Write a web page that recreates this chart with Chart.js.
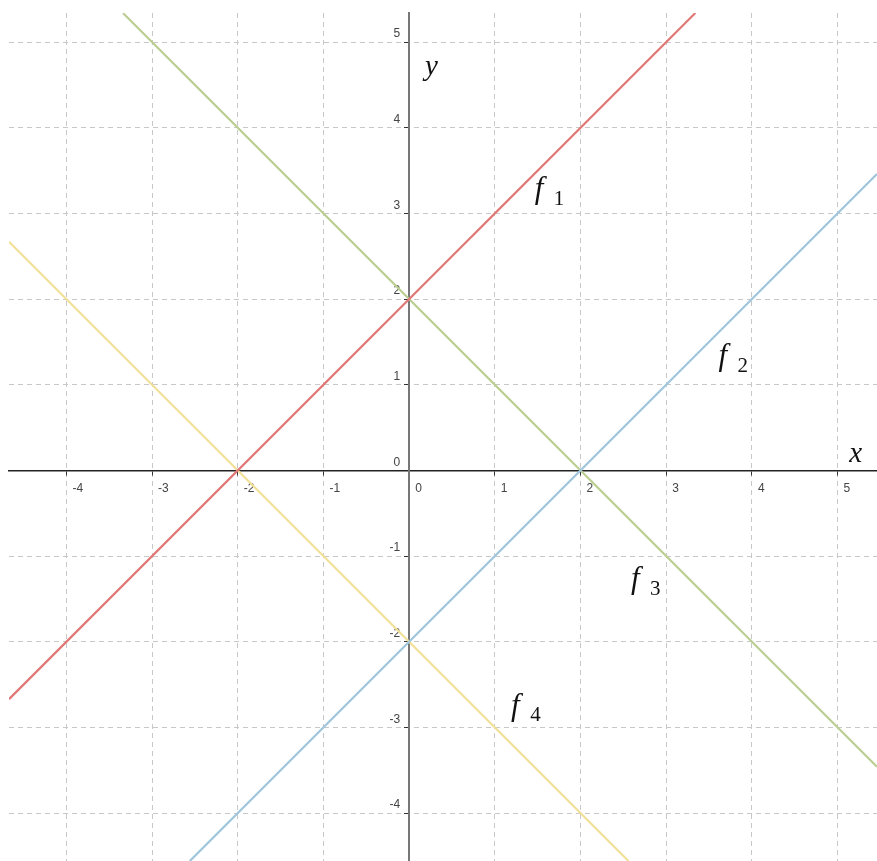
<!DOCTYPE html>
<html>
<head>
<meta charset="utf-8">
<script src="https://cdn.jsdelivr.net/npm/chart.js@4/dist/chart.umd.min.js"></script>
<style>
  html, body { margin: 0; padding: 0; background: #fff; }
  #wrap { width: 877px; height: 861px; }
</style>
</head>
<body>
<div id="wrap"><canvas id="myChart"></canvas></div>
<script>
(function () {
  'use strict'

  // tick labels
  var xTicks = [-4, -3, -2, -1, 0, 1, 2, 3, 4, 5]
  var yTicks = [-4, -3, -2, -1, 0, 1, 2, 3, 4, 5]

  // line end points
  var f1X = [-4.67, 3.34], f1Y = [-2.67, 5.34]
  var f2X = [-2.56, 5.46], f2Y = [-4.56, 3.46]
  var f3X = [-3.34, 5.46], f3Y = [5.34, -3.46]
  var f4X = [-4.67, 2.56], f4Y = [2.67, -4.56]

  // function names and where they sit
  var names = ['1', '2', '3', '4']
  var nameX = [1.515, 3.66, 2.64, 1.24]
  var nameY = [3.27, 1.32, -1.28, -2.76]

  function pts(xs, ys) {
    return xs.map(function (x, i) { return { x: x, y: ys[i] } })
  }

  function line(label, xs, ys, color) {
    return {
      label: label,
      data: pts(xs, ys),
      showLine: true,
      borderColor: color,
      borderWidth: 2.2,
      pointRadius: 0,
      pointHoverRadius: 0,
      fill: false
    }
  }

  // keep the axes from eating into the plot area
  function noPadding(s) {
    s.paddingTop = 0
    s.paddingBottom = 0
    s.paddingLeft = 0
    s.paddingRight = 0
  }

  var labelsPlugin = {
    id: 'fnLabels',
    afterDatasetsDraw: function (chart) {
      var ctx = chart.ctx
      var xs = chart.scales.x, ys = chart.scales.y
      ctx.save()
      ctx.fillStyle = '#111'
      ctx.textAlign = 'center'
      ctx.textBaseline = 'middle'
      names.forEach(function (n, i) {
        var px = xs.getPixelForValue(nameX[i])
        var py = ys.getPixelForValue(nameY[i])
        ctx.font = 'italic 31px "Liberation Serif"'
        ctx.fillText('f', px, py)
        ctx.font = '21px "Liberation Serif"'
        ctx.fillText(n, px + 20, py + 9)
      })
      ctx.font = 'italic 29px "Liberation Serif"'
      ctx.fillText('y', xs.getPixelForValue(0.26), ys.getPixelForValue(4.70))
      ctx.fillText('x', xs.getPixelForValue(5.21), ys.getPixelForValue(0.19))
      ctx.restore()
    }
  }

  var tickFont = { family: '"Liberation Sans", Arial, sans-serif', size: 12 }

  var ctx = document.getElementById('myChart')
  var config = {
    type: 'scatter',
    data: {
      datasets: [
        line('f1', f1X, f1Y, '#e07878'),
        line('f2', f2X, f2Y, '#9fc6dd'),
        line('f3', f3X, f3Y, '#bccd92'),
        line('f4', f4X, f4Y, '#f2e099')
      ]
    },
    options: {
      responsive: true,
      maintainAspectRatio: false,
      animation: false,
      layout: { padding: { left: 9, top: 13, right: 0, bottom: 0 } },
      plugins: {
        legend: { display: false },
        tooltip: { enabled: false }
      },
      scales: {
        x: {
          type: 'linear',
          min: -4.67,
          max: 5.46,
          position: { y: 0 },
          afterBuildTicks: function (s) {
            s.ticks = xTicks.map(function (v) { return { value: v } })
          },
          afterFit: noPadding,
          grid: {
            color: '#c8c8c8',
            lineWidth: 1,
            drawTicks: true,
            tickLength: 4,
            tickColor: '#333',
            tickWidth: 1,
            tickBorderDash: []
          },
          border: { display: true, color: '#222', width: 1.5, dash: [5, 4] },
          ticks: {
            font: tickFont,
            color: '#444',
            padding: 7,
            align: 'start',
            labelOffset: 6,
            maxRotation: 0,
            autoSkip: false
          }
        },
        y: {
          type: 'linear',
          min: -4.56,
          max: 5.34,
          position: { x: 0 },
          afterBuildTicks: function (s) {
            s.ticks = yTicks.map(function (v) { return { value: v } })
          },
          afterFit: noPadding,
          grid: {
            color: '#c8c8c8',
            lineWidth: 1,
            drawTicks: true,
            tickLength: 4,
            tickColor: '#333',
            tickWidth: 1,
            tickBorderDash: []
          },
          border: { display: true, color: '#777', width: 2, dash: [5, 4] },
          ticks: {
            font: tickFont,
            color: '#444',
            padding: 0,
            labelOffset: -8,
            autoSkip: false,
            // labels sit a little left of the axis line
            callback: function (v) { return v + '\u2002\u2005' }
          }
        }
      }
    },
    plugins: [labelsPlugin]
  }
  var chart = new Chart(ctx, config)
})()
</script>
</body>
</html>
